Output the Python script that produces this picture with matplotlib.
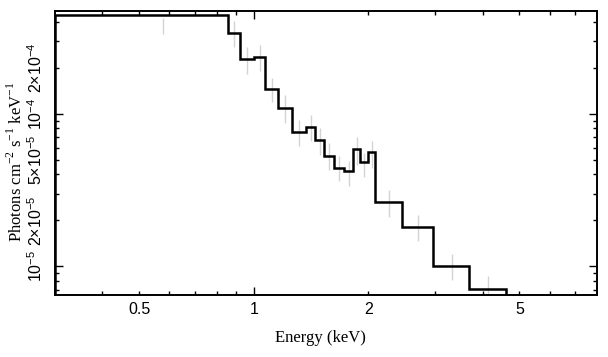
import numpy as np
import matplotlib
matplotlib.use("Agg")
import matplotlib.pyplot as plt

plt.rcParams["mathtext.fontset"] = "custom"
plt.rcParams["mathtext.rm"] = "Liberation Serif"
plt.rcParams["mathtext.sf"] = "Liberation Sans"

# bin edges (keV), folded model and data error ranges (photons cm^-2 s^-1 keV^-1)
edges = [0.30, 0.856, 0.919, 1.002, 1.069, 1.159, 1.263, 1.371, 1.452, 1.531,
         1.629, 1.729, 1.826, 1.902, 2.000, 2.089, 2.458, 2.956, 3.688, 4.602]
model = [4.42e-4, 3.38e-4, 2.28e-4, 2.35e-4, 1.44e-4, 1.09e-4, 7.59e-5, 8.18e-5,
         6.68e-5, 5.31e-5, 4.41e-5, 4.19e-5, 5.87e-5, 4.80e-5, 5.58e-5, 2.64e-5,
         1.81e-5, 1.00e-5, 7.15e-6]
data_hi = [4.25e-4, 4.02e-4, 2.72e-4, 2.83e-4, 1.72e-4, 1.33e-4, 9.13e-5, 9.85e-5,
           8.06e-5, 6.43e-5, 5.25e-5, 4.87e-5, 7.04e-5, 5.53e-5, 6.59e-5, 3.18e-5,
           2.18e-5, 1.21e-5, 8.60e-6]
data_lo = [3.34e-4, 2.72e-4, 1.82e-4, 1.89e-4, 1.20e-4, 8.69e-5, 6.11e-5, 6.59e-5,
           5.39e-5, 4.30e-5, 3.60e-5, 3.34e-5, 4.63e-5, 3.85e-5, 4.41e-5, 2.11e-5,
           1.46e-5, 8.18e-6, 5.0e-6]

x_major = [1]
x_minor = [0.4, 0.5, 0.6, 0.7, 0.8, 0.9, 2, 3, 4, 5, 6, 7]
x_minor_labels = ["", "0.5", "", "", "", "", "2", "", "", "5", "", ""]
y_major = [1e-5, 1e-4]
y_major_labels = [r"$\mathsf{10^{-5}}$", r"$\mathsf{10^{-4}}$"]
y_minor = [7e-6, 8e-6, 9e-6, 2e-5, 3e-5, 4e-5, 5e-5, 6e-5, 7e-5, 8e-5, 9e-5,
           2e-4, 3e-4, 4e-4]
y_minor_labels = ["", "", "", r"$\mathsf{2{\times}10^{-5}}$", "", "",
                  r"$\mathsf{5{\times}10^{-5}}$", "", "", "", "",
                  r"$\mathsf{2{\times}10^{-4}}$", "", ""]

edges_a = np.array(edges)
centers = (edges_a[:-1] + edges_a[1:]) / 2

fig = plt.figure(figsize=(6.08, 3.57), dpi=100)
ax = fig.add_axes([55 / 608, 1 - 295 / 357, 542 / 608, 284 / 357])

ax.vlines(centers, data_lo, data_hi, color="#d4d4d4", lw=1.0, zorder=1)
ax.stairs(model, edges, baseline=1e-7, color="black", lw=1.8, zorder=2)

ax.set_xscale("log")
ax.set_yscale("log")
ax.set_xlim(0.3, 8)
ax.set_ylim(6.5e-6, 4.7e-4)

ax.set_xticks(x_major)
ax.set_xticklabels(["1"])
ax.set_xticks(x_minor, minor=True)
ax.set_xticklabels(x_minor_labels, minor=True)
ax.set_yticks(y_major)
ax.set_yticklabels(y_major_labels)
ax.set_yticks(y_minor, minor=True)
ax.set_yticklabels(y_minor_labels, minor=True)

ax.tick_params(which="both", direction="in", top=True, right=True, width=1.0,
               labelsize=11.5)
ax.tick_params(which="major", length=5.5)
ax.tick_params(which="minor", length=3)
ax.tick_params(axis="x", which="both", pad=5)
ax.tick_params(axis="y", which="both", pad=7, labelrotation=90)
for t in ax.get_xticklabels(which="both"):
    t.set_fontfamily("Liberation Sans")
for t in ax.get_yticklabels(which="both"):
    t.set_va("center")
for s in ax.spines.values():
    s.set_linewidth(1.4)

ax.set_xlabel("Energy (keV)", fontfamily="Liberation Serif", fontsize=12)
ax.xaxis.set_label_coords(0.49, -0.125)
ax.set_ylabel(r"Photons cm$^{\mathrm{-2}}$ s$^{\mathrm{-1}}$ keV$^{\mathrm{-1}}$",
              fontfamily="Liberation Serif", fontsize=12)
ax.yaxis.set_label_coords(-0.054, 0.47)

fig.savefig("out.png", dpi=100)
